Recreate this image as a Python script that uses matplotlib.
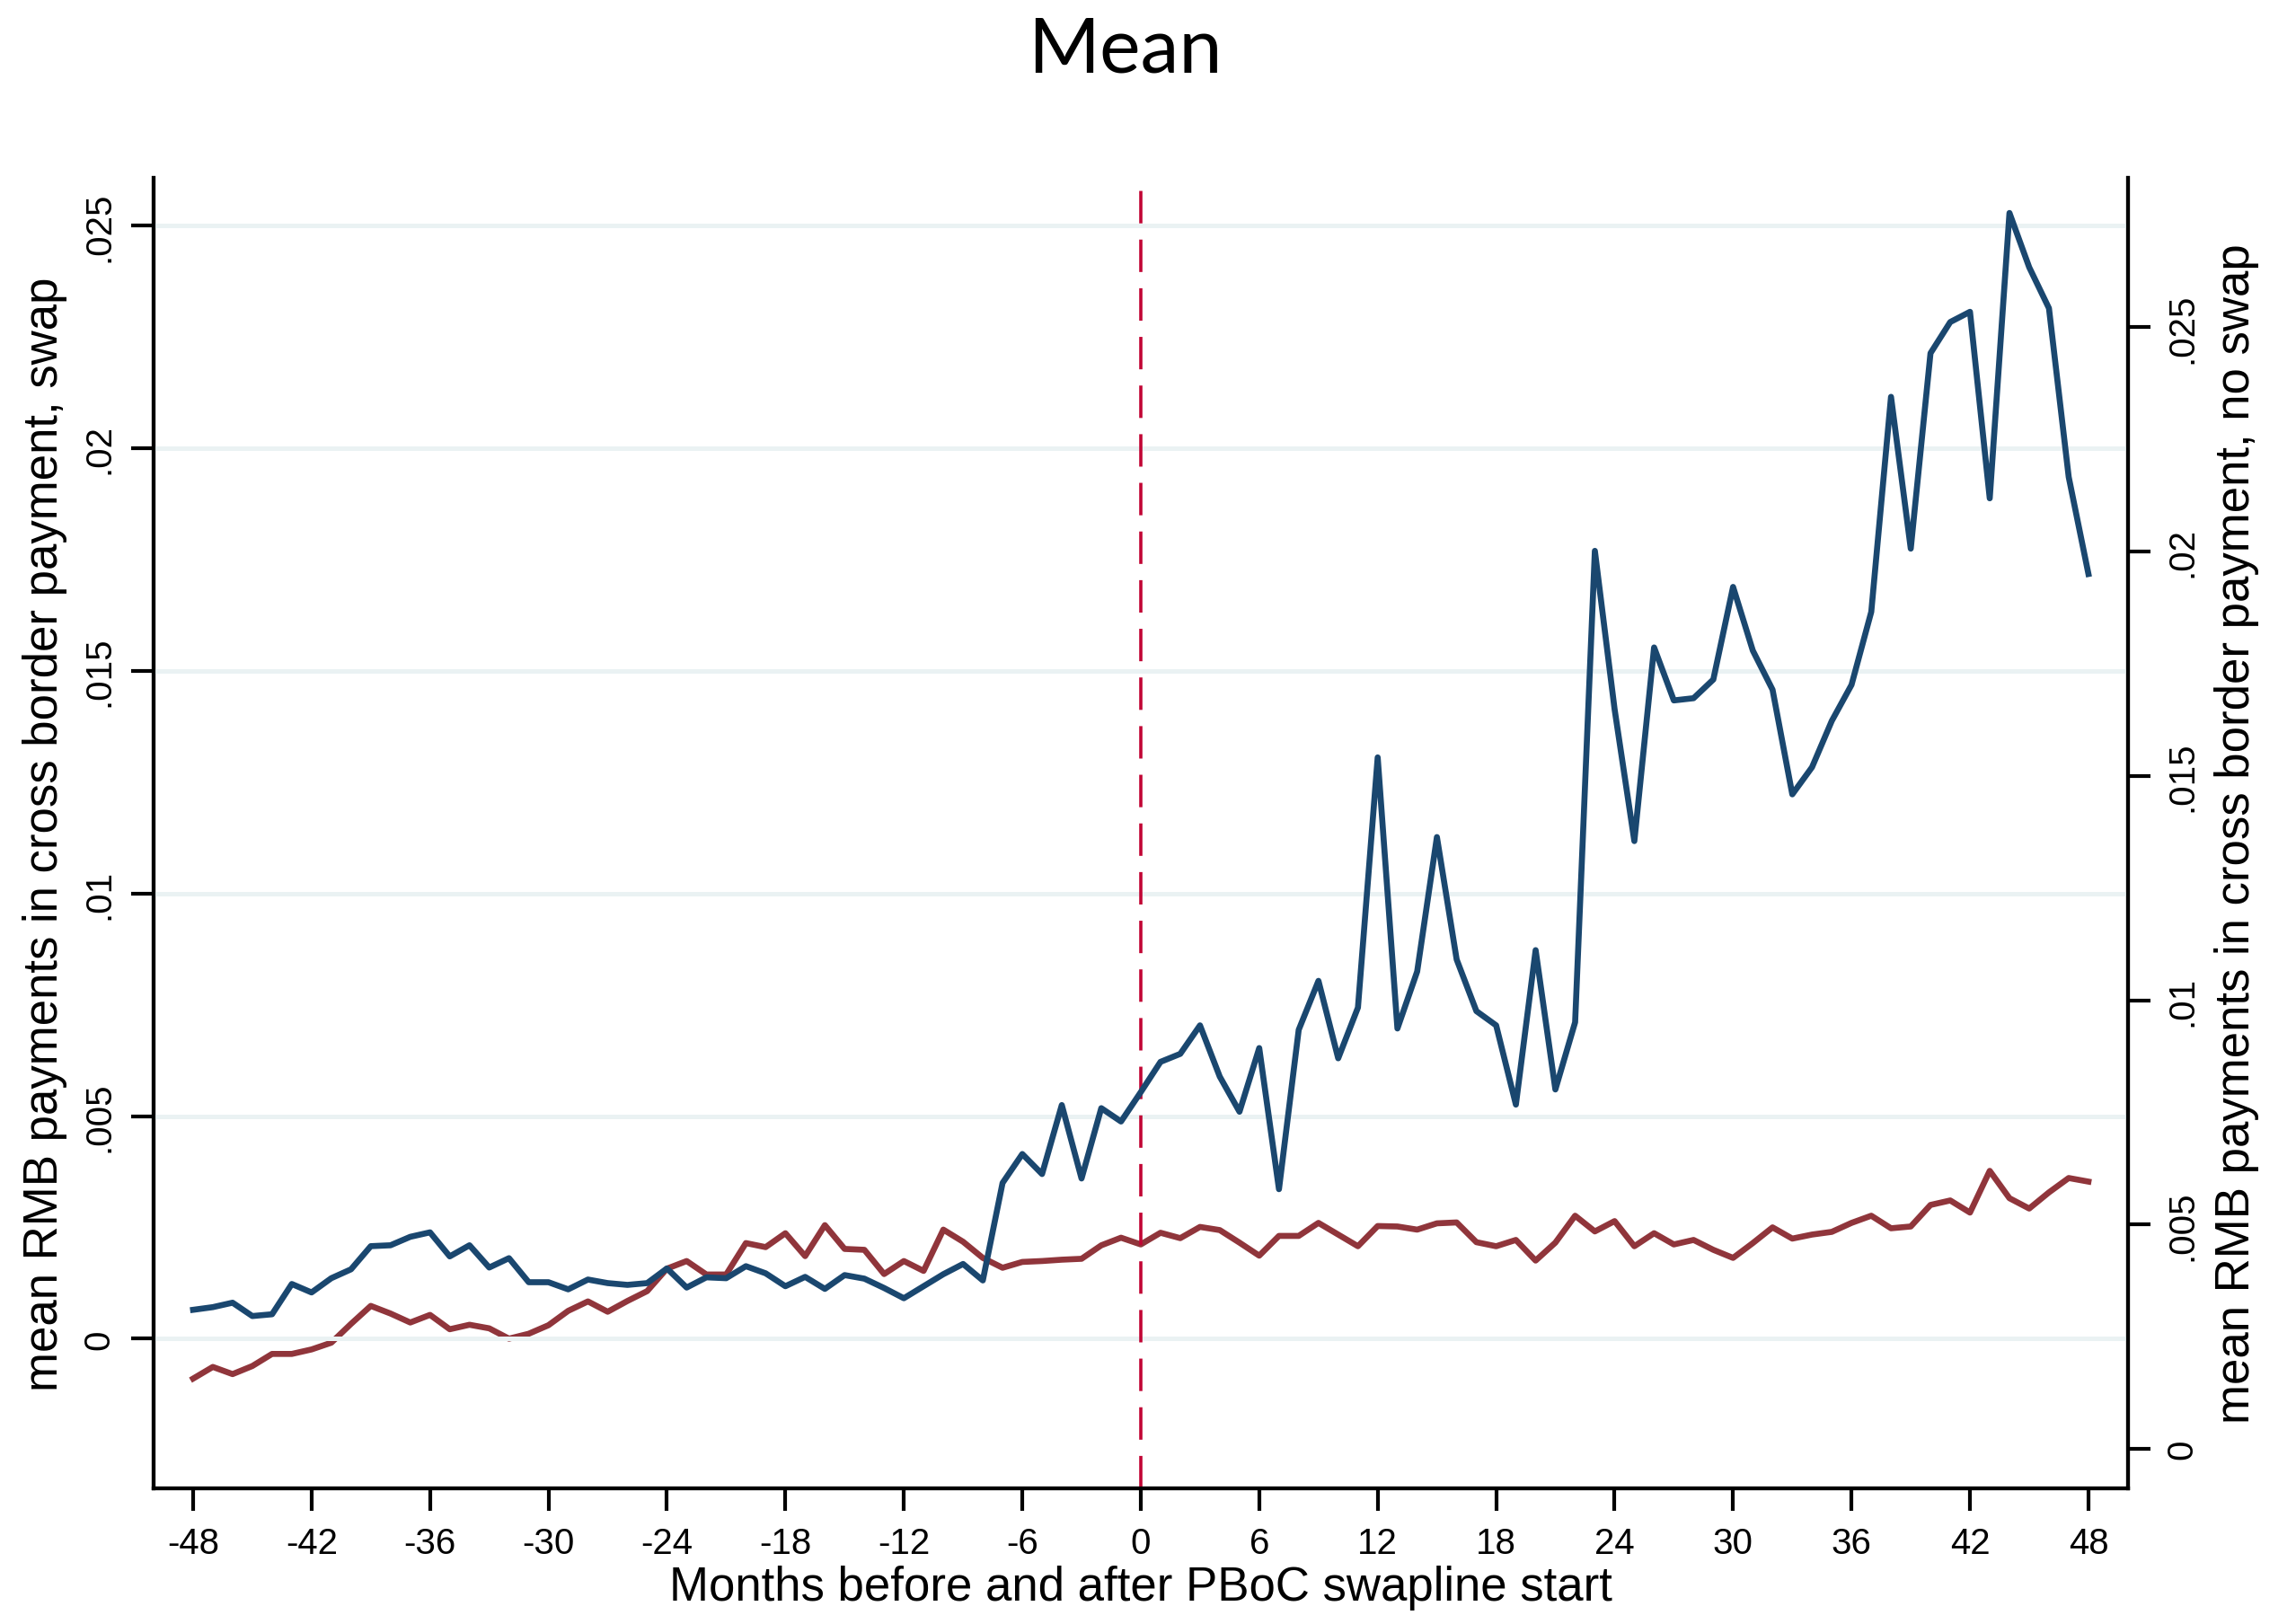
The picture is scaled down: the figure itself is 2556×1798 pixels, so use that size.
import matplotlib
matplotlib.use("Agg")
import matplotlib.pyplot as plt
import numpy as np

# monthly event time around the PBoC swap line start
months = list(range(-48, 49))

# mean RMB share of cross border payments, swap countries (left axis)
mean_swap = [
    0.00065, 0.00071, 0.00081, 0.00051, 0.00055, 0.00123, 0.00104, 0.00136,
    0.00156, 0.00208, 0.00210, 0.00229, 0.00239, 0.00185, 0.00210, 0.00160,
    0.00181, 0.00127, 0.00127, 0.00111, 0.00133, 0.00125, 0.00121, 0.00125,
    0.00158, 0.00115, 0.00138, 0.00136, 0.00163, 0.00147, 0.00118, 0.00139,
    0.00112, 0.00143, 0.00135, 0.00114, 0.00091, 0.00118, 0.00145, 0.00168,
    0.00131, 0.00350, 0.00415, 0.00370, 0.00525, 0.00360, 0.00518, 0.00488,
    0.00554, 0.00622, 0.00640, 0.00704, 0.00589, 0.00510, 0.00653, 0.00336,
    0.00694, 0.00804, 0.00630, 0.00744, 0.01306, 0.00697, 0.00825, 0.01127,
    0.00852, 0.00736, 0.00704, 0.00526, 0.00873, 0.00560, 0.00711, 0.01770,
    0.01414, 0.01118, 0.01553, 0.01434, 0.01439, 0.01481, 0.01689, 0.01546,
    0.01458, 0.01223, 0.01284, 0.01388, 0.01469, 0.01633, 0.02116, 0.01775,
    0.02214, 0.02284, 0.02307, 0.01888, 0.02529, 0.02407, 0.02315, 0.01936,
    0.01718,
]

# mean RMB share of cross border payments, no swap countries (right axis)
mean_noswap = [
    0.00157, 0.00183, 0.00167, 0.00185, 0.00212, 0.00212, 0.00222, 0.00237,
    0.00279, 0.00319, 0.00302, 0.00282, 0.00299, 0.00267, 0.00277, 0.00269,
    0.00246, 0.00257, 0.00276, 0.00308, 0.00329, 0.00306, 0.00330, 0.00352,
    0.00402, 0.00419, 0.00389, 0.00389, 0.00459, 0.00450, 0.00481, 0.00430,
    0.00499, 0.00446, 0.00444, 0.00390, 0.00419, 0.00397, 0.00489, 0.00462,
    0.00426, 0.00404, 0.00417, 0.00419, 0.00422, 0.00424, 0.00454, 0.00471,
    0.00456, 0.00482, 0.00470, 0.00495, 0.00488, 0.00460, 0.00431, 0.00475,
    0.00475, 0.00504, 0.00478, 0.00452, 0.00497, 0.00496, 0.00489, 0.00503,
    0.00505, 0.00461, 0.00452, 0.00466, 0.00420, 0.00460, 0.00520, 0.00485,
    0.00508, 0.00452, 0.00481, 0.00456, 0.00466, 0.00444, 0.00426, 0.00459,
    0.00494, 0.00469, 0.00478, 0.00484, 0.00504, 0.00520, 0.00492, 0.00496,
    0.00544, 0.00554, 0.00527, 0.00620, 0.00559, 0.00536, 0.00572, 0.00604,
    0.00596,
]

left_ticks = [0, 0.005, 0.01, 0.015, 0.02, 0.025]
left_labels = ["0", ".005", ".01", ".015", ".02", ".025"]
right_ticks = [0, 0.005, 0.01, 0.015, 0.02, 0.025]
right_labels = ["0", ".005", ".01", ".015", ".02", ".025"]
x_ticks = list(range(-48, 49, 6))

plt.rcParams['font.family'] = ['Liberation Sans', 'DejaVu Sans']

fig = plt.figure(figsize=(12.78, 8.995), dpi=200)
ax = fig.add_axes([0.0669, 0.0784, 0.8599, 0.811])
ax2 = ax.twinx()

# light horizontal grid at left axis ticks
for t in left_ticks:
    ax.axhline(t, color='#eaf2f3', lw=1.8, zorder=0)

ax.plot(months, mean_swap, color='#1a476f', lw=2.4, zorder=3)
ax2.plot(months, mean_noswap, color='#90353b', lw=2.4, zorder=3)
ax.axvline(0, color='#c10534', lw=1.3, linestyle=(0, (10, 5)), zorder=2)

ax.set_xlim(-50, 50)
ax.set_ylim(-0.00336, 0.02608)
ax2.set_ylim(-0.000875, 0.02833)

ax.set_xticks(x_ticks)
ax.set_xticklabels([str(v) for v in x_ticks], fontsize=14.5)
ax.set_yticks(left_ticks)
ax.set_yticklabels(left_labels, fontsize=14.5, rotation=90, va='center')
ax2.set_yticks(right_ticks)
ax2.set_yticklabels(right_labels, fontsize=14.5, rotation=90, va='center')

for a in (ax, ax2):
    a.spines['top'].set_visible(False)
    for s in ('left', 'right', 'bottom'):
        a.spines[s].set_linewidth(1.5)
    a.tick_params(width=1.5, length=9, pad=6)
ax.patch.set_visible(False)
ax2.set_zorder(ax.get_zorder() - 1)
ax.set_zorder(1)
ax2.patch.set_visible(True)
ax2.patch.set_facecolor('white')

ax.set_xlabel("Months before and after PBoC swapline start", fontsize=19, labelpad=2)
ax.set_ylabel("mean RMB payments in cross border payment, swap", fontsize=19, labelpad=6)
ax2.set_ylabel("mean RMB payments in cross border payment, no swap", fontsize=19,
               rotation=90, labelpad=6)

fig.suptitle("Mean", fontsize=31, family='Lato', x=0.49, y=0.99)

fig.savefig("out.png", dpi=200, facecolor='white')
